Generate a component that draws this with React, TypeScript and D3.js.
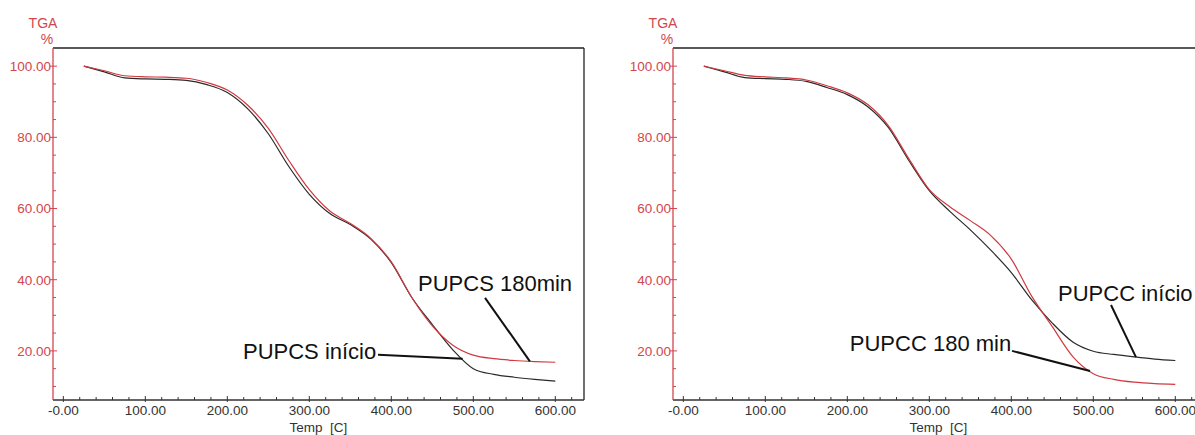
import React, { useEffect, useRef } from "react";
import * as d3 from "d3";

// temperature grid (C) shared by all four TGA curves
const temps = [25, 50, 75, 100, 125, 150, 175, 200, 225, 250, 275, 300, 325, 350, 375, 400, 425, 450, 475, 500, 525, 550, 575, 600];

// left panel
const pupcsInicio = [100, 98.4, 96.7, 96.4, 96.3, 96.0, 94.8, 92.6, 88.0, 81.0, 71.8, 64.0, 58.6, 55.5, 51.4, 44.8, 35.0, 27.4, 20.3, 15.0, 13.4, 12.6, 12.0, 11.5];
const pupcs180 = [100, 98.7, 97.3, 97.0, 96.9, 96.6, 95.4, 93.3, 89.0, 82.5, 73.5, 65.3, 59.3, 55.8, 51.6, 45.0, 35.0, 27.0, 21.6, 18.8, 17.8, 17.3, 17.0, 16.8];

// right panel
const pupccInicio = [100, 98.4, 96.8, 96.5, 96.3, 95.7, 94.0, 92.0, 88.6, 82.8, 73.5, 65.0, 59.2, 54.0, 48.3, 42.0, 34.3, 27.8, 22.5, 19.9, 19.0, 18.3, 17.7, 17.3];
const pupcc180 = [100, 98.7, 97.4, 97.0, 96.7, 96.1, 94.5, 92.5, 89.2, 83.3, 74.0, 65.3, 60.5, 56.6, 52.4, 45.8, 35.3, 26.8, 18.4, 13.6, 12.0, 11.2, 10.8, 10.6];

const xTicks = [0, 100, 200, 300, 400, 500, 600];
const xTickLabels = ["-0.00", "100.00", "200.00", "300.00", "400.00", "500.00", "600.00"];
const yTicks = [20, 40, 60, 80, 100];
const yTickLabels = ["20.00", "40.00", "60.00", "80.00", "100.00"];

// annotations: text position, leader start, leader end (temp on the curve)
const leftNotes = [
  { text: "PUPCS 180min", tx: 432.6, ty: 36.8, sx: 514.3, sy: 34.9, ex: 569, curve: "red" },
  { text: "PUPCS início", tx: 219.1, ty: 17.7, sx: 383.8, sy: 18.9, ex: 487, curve: "black" },
];
const rightNotes = [
  { text: "PUPCC início", tx: 457, ty: 34.0, sx: 521.6, sy: 32.9, ex: 552, curve: "black" },
  { text: "PUPCC 180 min", tx: 203, ty: 20.0, sx: 400.9, sy: 20.0, ex: 496, curve: "red" },
];

const FONT = "'Liberation Sans', Arial, sans-serif";
const RED = "#d0393f";
const AXRED = "#d2464e";
const DARK = "#333";

function interp(vals, t) {
  return d3.scaleLinear().domain(temps).range(vals).clamp(true)(t);
}

function drawPanel(svg, left, red, black, notes) {
  const width = 531;
  const x = d3.scaleLinear().domain([-12.6, 635]).range([left, left + width]);
  const y = d3.scaleLinear().domain([6.2, 105.1]).range([400, 48]);
  const g = svg.append("g");
  const top = y.range()[1], bottom = y.range()[0];

  // frame
  g.append("line").attr("x1", left).attr("x2", left + width).attr("y1", top).attr("y2", top)
    .attr("stroke", "#222").attr("stroke-width", 1.3);
  g.append("line").attr("x1", left + width).attr("x2", left + width).attr("y1", top).attr("y2", bottom)
    .attr("stroke", "#222").attr("stroke-width", 1.3);
  g.append("line").attr("x1", left).attr("x2", left + width).attr("y1", bottom).attr("y2", bottom)
    .attr("stroke", DARK).attr("stroke-width", 1.3);
  g.append("line").attr("x1", left).attr("x2", left).attr("y1", top).attr("y2", bottom)
    .attr("stroke", AXRED).attr("stroke-width", 1.3);

  // x ticks
  const xMinor = d3.range(20, 640, 20).filter(d => d % 100 !== 0);
  g.selectAll(".xminor").data(xMinor).enter().append("line")
    .attr("x1", d => x(d)).attr("x2", d => x(d)).attr("y1", bottom).attr("y2", bottom - 3)
    .attr("stroke", DARK);
  g.selectAll(".xmajor").data(xTicks).enter().append("line")
    .attr("x1", d => x(d)).attr("x2", d => x(d)).attr("y1", bottom + 2).attr("y2", bottom - 4)
    .attr("stroke", DARK);
  g.selectAll(".xlab").data(xTicks).enter().append("text")
    .attr("x", d => x(d)).attr("y", bottom + 15)
    .attr("text-anchor", "middle").attr("font-size", 13.5).attr("fill", DARK)
    .attr("font-family", FONT)
    .text((d, i) => xTickLabels[i]);

  // y ticks
  const yMinor = d3.range(10, 105, 5).filter(d => d % 20 !== 0);
  g.selectAll(".yminor").data(yMinor).enter().append("line")
    .attr("x1", left).attr("x2", left + 3).attr("y1", d => y(d)).attr("y2", d => y(d))
    .attr("stroke", AXRED);
  g.selectAll(".ymajor").data(yTicks).enter().append("line")
    .attr("x1", left - 3).attr("x2", left + 4).attr("y1", d => y(d)).attr("y2", d => y(d))
    .attr("stroke", AXRED);
  g.selectAll(".ylab").data(yTicks).enter().append("text")
    .attr("x", left - 2).attr("y", d => y(d)).attr("dy", "0.36em")
    .attr("text-anchor", "end").attr("font-size", 13.5).attr("fill", AXRED)
    .attr("font-family", FONT)
    .text((d, i) => yTickLabels[i]);

  // axis titles
  g.append("text").attr("x", left - 10).attr("y", 28).attr("text-anchor", "middle")
    .attr("font-size", 14).attr("fill", AXRED).attr("font-family", FONT).text("TGA");
  g.append("text").attr("x", left - 6).attr("y", 44).attr("text-anchor", "middle")
    .attr("font-size", 14).attr("fill", AXRED).attr("font-family", FONT).text("%");
  g.append("text").attr("x", left + width / 2).attr("y", 432).attr("text-anchor", "middle")
    .attr("font-size", 13.5).attr("fill", DARK).attr("font-family", FONT)
    .style("white-space", "pre").text("Temp  [C]");

  // curves
  const line = d3.line()
    .x((d, i) => x(temps[i]))
    .y(d => y(d))
    .curve(d3.curveMonotoneX);
  g.append("path").datum(black).attr("d", line)
    .attr("fill", "none").attr("stroke", "#2a2a2a").attr("stroke-width", 1.2);
  g.append("path").datum(red).attr("d", line)
    .attr("fill", "none").attr("stroke", RED).attr("stroke-width", 1.2);

  // annotations
  notes.forEach(n => {
    const vals = n.curve === "red" ? red : black;
    g.append("line")
      .attr("x1", x(n.sx)).attr("y1", y(n.sy))
      .attr("x2", x(n.ex)).attr("y2", y(interp(vals, n.ex)))
      .attr("stroke", "#111").attr("stroke-width", 2);
    g.append("text").attr("x", x(n.tx)).attr("y", y(n.ty))
      .attr("font-size", 22).attr("fill", "#111").attr("font-family", FONT)
      .text(n.text);
  });
}

export default function App() {
  const ref = useRef(null);

  useEffect(() => {
    const svg = d3.select(ref.current);
    svg.selectAll("*").remove();
    drawPanel(svg, 53, pupcs180, pupcsInicio, leftNotes);
    drawPanel(svg, 673, pupcc180, pupccInicio, rightNotes);
  }, []);

  return (
    <svg
      ref={ref}
      width={1195}
      height={435}
      style={{ position: "absolute", left: 0, top: 0, background: "#fff" }}
    />
  );
}
